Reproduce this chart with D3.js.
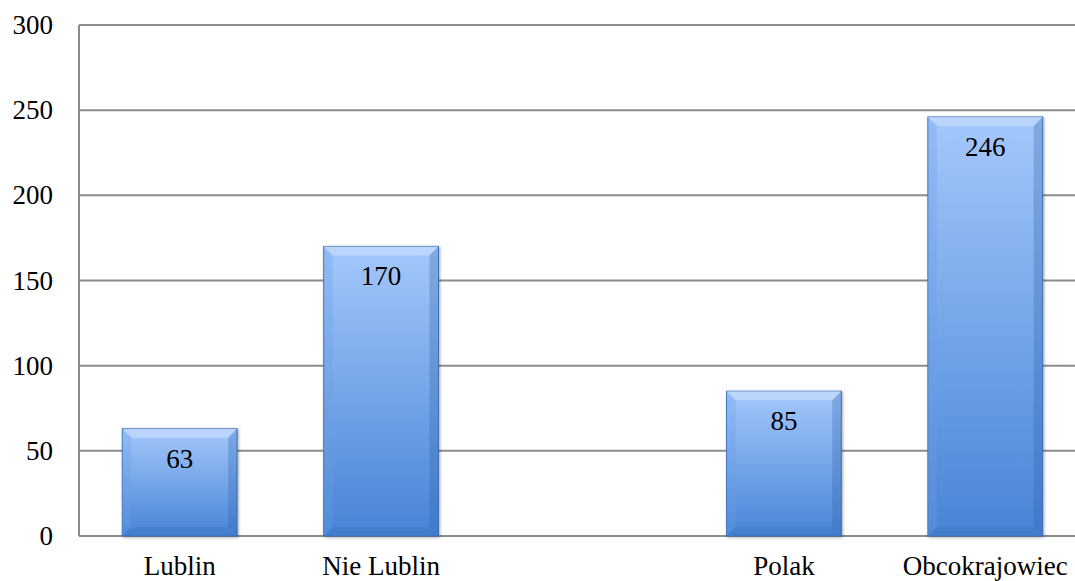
<!DOCTYPE html>
<html>
<head>
<meta charset="utf-8">
<script src="https://cdn.jsdelivr.net/npm/d3@7"></script>
<style>
  body { margin: 0; background: #fff; }
  svg { display: block; }
  text { font-family: "Liberation Serif", serif; fill: #000; }
</style>
</head>
<body>
<svg width="1075" height="581"></svg>
<script>
// data
const categories = ['Lublin', 'Nie Lublin', ' ', 'Polak', 'Obcokrajowiec'];
const values = [63, 170, null, 85, 246];
const yTicks = [0, 50, 100, 150, 200, 250, 300];

const svg = d3.select('svg');
const margin = {top: 25, left: 79};
const plotRight = 1086;

const x = d3.scaleBand()
  .domain(categories)
  .range([margin.left, plotRight])
  .paddingInner(0.43)
  .paddingOuter(0.215);

const y = d3.scaleLinear()
  .domain([0, 300])
  .range([536, margin.top]);

// gradients
const defs = svg.append('defs');
const grad = defs.append('linearGradient')
  .attr('id', 'barGrad').attr('x1', 0).attr('y1', 0).attr('x2', 0).attr('y2', 1);
grad.append('stop').attr('offset', '0%').attr('stop-color', '#a4c8fc');
grad.append('stop').attr('offset', '100%').attr('stop-color', '#4884d6');

const shadow = defs.append('filter').attr('id', 'shadow')
  .attr('x', '-20%').attr('y', '-20%').attr('width', '140%').attr('height', '140%');
shadow.append('feDropShadow').attr('dx', 1).attr('dy', 1).attr('stdDeviation', 1.5)
  .attr('flood-color', '#000').attr('flood-opacity', 0.35);

// gridlines
svg.append('g')
  .selectAll('line')
  .data(yTicks)
  .enter()
  .append('line')
    .attr('x1', margin.left)
    .attr('x2', plotRight)
    .attr('y1', d => y(d))
    .attr('y2', d => y(d))
    .attr('stroke', '#8c8c8c')
    .attr('stroke-width', 2);

// left axis line
svg.append('line')
  .attr('x1', margin.left).attr('x2', margin.left)
  .attr('y1', y(300)).attr('y2', y(0))
  .attr('stroke', '#8c8c8c').attr('stroke-width', 2);

// y labels
const yAxis = svg.append('g')
  .attr('transform', `translate(${margin.left - 26},0)`)
  .call(d3.axisLeft(y).tickValues(yTicks).tickSize(0).tickPadding(0))
  .attr('font-family', '"Liberation Serif", serif')
  .attr('font-size', 27);
yAxis.select('.domain').remove();
yAxis.selectAll('text').attr('fill', '#000');

// x labels
const xAxis = svg.append('g')
  .attr('transform', `translate(0,${y(0)})`)
  .call(d3.axisBottom(x).tickSize(0).tickPadding(20))
  .attr('font-family', '"Liberation Serif", serif')
  .attr('font-size', 27);
xAxis.select('.domain').remove();
xAxis.selectAll('text').attr('fill', '#000');

// bars
const data = categories.map((c, i) => ({cat: c, val: values[i]})).filter(d => d.val != null);
const bars = svg.append('g')
  .selectAll('g')
  .data(data)
  .enter()
  .append('g');

bars.append('rect')
  .attr('x', d => x(d.cat))
  .attr('y', d => y(d.val))
  .attr('width', x.bandwidth())
  .attr('height', d => y(0) - y(d.val))
  .attr('fill', 'url(#barGrad)')
  .attr('stroke', '#3e72b8')
  .attr('stroke-width', 1)
  .attr('filter', 'url(#shadow)');

// bevel: top light, sides darker
const b = 9;
bars.append('polygon')
  .attr('points', d => {
    const x0 = x(d.cat), x1 = x0 + x.bandwidth(), y0 = y(d.val);
    return [[x0, y0], [x1, y0], [x1 - b, y0 + b], [x0 + b, y0 + b]].join(' ');
  })
  .attr('fill', '#c6dcfd').attr('opacity', 0.7);
bars.append('polygon')
  .attr('points', d => {
    const x0 = x(d.cat), y0 = y(d.val), y1 = y(0);
    return [[x0, y0], [x0 + b, y0 + b], [x0 + b, y1 - b], [x0, y1]].join(' ');
  })
  .attr('fill', '#6a9ee6').attr('opacity', 0.3);
bars.append('polygon')
  .attr('points', d => {
    const x1 = x(d.cat) + x.bandwidth(), y0 = y(d.val), y1 = y(0);
    return [[x1, y0], [x1 - b, y0 + b], [x1 - b, y1 - b], [x1, y1]].join(' ');
  })
  .attr('fill', '#2f63a8').attr('opacity', 0.3);
bars.append('polygon')
  .attr('points', d => {
    const x0 = x(d.cat), x1 = x0 + x.bandwidth(), y1 = y(0);
    return [[x0, y1], [x0 + b, y1 - b], [x1 - b, y1 - b], [x1, y1]].join(' ');
  })
  .attr('fill', '#2f63a8').attr('opacity', 0.2);

// value labels
bars.append('text')
  .attr('x', d => x(d.cat) + x.bandwidth() / 2)
  .attr('y', d => y(d.val) + 30)
  .attr('text-anchor', 'middle')
  .attr('dominant-baseline', 'central')
  .style('font-size', '27px')
  .text(d => d.val);
</script>
</body>
</html>
